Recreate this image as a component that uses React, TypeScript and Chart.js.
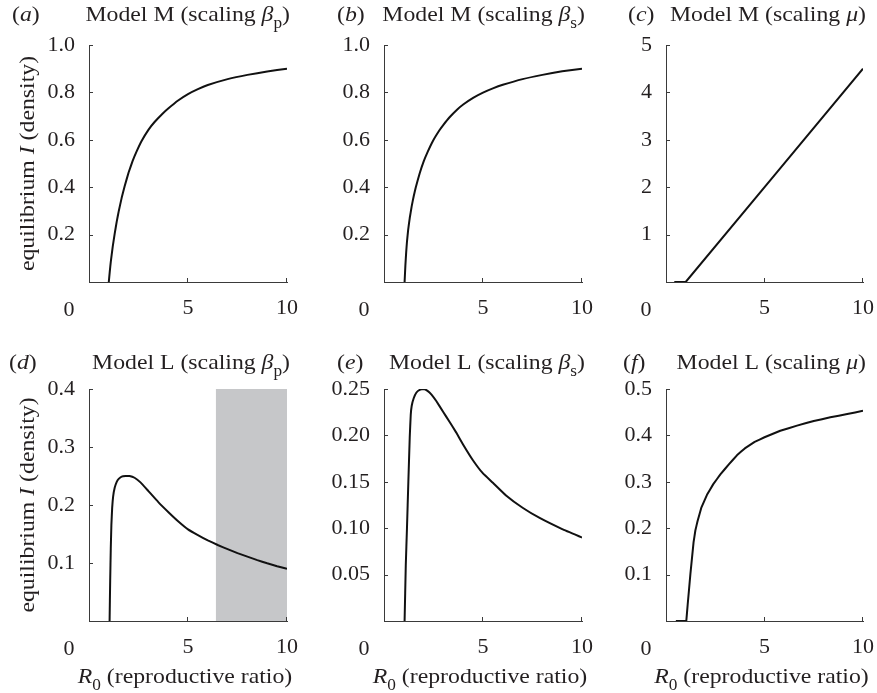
import React, { useEffect, useRef } from 'react';
import { Chart, registerables } from 'chart.js';

Chart.register(...registerables);

const FONT = "'Liberation Serif', 'Times New Roman', serif";
const INK = '#231f20';
const AXIS = '#3a3a3a';
const LINE = '#111111';
const SHADE = '#c6c7c9';
const FS = 22;
const SX = 1.08; // slight horizontal stretch for drawn captions

// ---- shared x ticks ----
const xTickValues = [0, 5, 10];
const xTickLabels = ['', '5', '10'];

// ---- (a) Model M, scaling beta_p ----
const aR0 = [1.0, 1.05, 1.1, 1.2, 1.3, 1.4, 1.5, 1.65, 1.8, 2.0, 2.2, 2.4, 2.65, 3.0, 3.3, 3.7, 4.0, 4.5, 5.0, 5.5, 6.0, 7.0, 8.0, 9.0, 10.0];
const aI = [0, 0.045, 0.085, 0.15, 0.205, 0.255, 0.298, 0.355, 0.404, 0.462, 0.51, 0.55, 0.594, 0.642, 0.674, 0.709, 0.732, 0.766, 0.793, 0.814, 0.831, 0.856, 0.874, 0.888, 0.9];
const aYTicks = [0, 0.2, 0.4, 0.6, 0.8, 1.0];
const aYLabels = ['', '0.2', '0.4', '0.6', '0.8', '1.0'];

// ---- (b) Model M, scaling beta_s ----
const bR0 = [1.04, 1.08, 1.12, 1.16, 1.22, 1.3, 1.4, 1.5, 1.6, 1.8, 2.0, 2.2, 2.47, 2.8, 3.0, 3.3, 3.7, 4.0, 4.5, 5.0, 5.5, 6.0, 7.0, 8.0, 9.0, 10.0];
const bI = [0, 0.07, 0.125, 0.17, 0.22, 0.27, 0.32, 0.362, 0.398, 0.458, 0.508, 0.548, 0.595, 0.64, 0.663, 0.694, 0.728, 0.749, 0.777, 0.799, 0.817, 0.832, 0.856, 0.874, 0.889, 0.9];
const bYTicks = [0, 0.2, 0.4, 0.6, 0.8, 1.0];
const bYLabels = ['', '0.2', '0.4', '0.6', '0.8', '1.0'];

// ---- (c) Model M, scaling mu ----
const cR0 = [0.42, 1.0, 10.0];
const cI = [0, 0, 4.5];
const cYTicks = [0, 1, 2, 3, 4, 5];
const cYLabels = ['', '1', '2', '3', '4', '5'];

// ---- (d) Model L, scaling beta_p ----
const dR0 = [1.04, 1.07, 1.1, 1.13, 1.17, 1.22, 1.3, 1.4, 1.5, 1.65, 1.85, 2.05, 2.3, 2.6, 3.0, 3.5, 4.0, 4.5, 5.0, 5.5, 6.0, 6.5, 7.0, 7.5, 8.0, 8.5, 9.0, 9.5, 10.0];
const dI = [0, 0.07, 0.125, 0.165, 0.195, 0.215, 0.23, 0.24, 0.245, 0.249, 0.25, 0.25, 0.247, 0.239, 0.224, 0.205, 0.188, 0.172, 0.158, 0.148, 0.139, 0.131, 0.124, 0.117, 0.111, 0.105, 0.0995, 0.0945, 0.09];
const dShadeR0 = [6.4, 10.0];
const dShadeI = [0.4, 0.4];
const dYTicks = [0, 0.1, 0.2, 0.3, 0.4];
const dYLabels = ['', '0.1', '0.2', '0.3', '0.4'];

// ---- (e) Model L, scaling beta_s ----
const eR0 = [1.04, 1.1, 1.16, 1.23, 1.3, 1.35, 1.4, 1.5, 1.63, 1.8, 2.0, 2.2, 2.4, 2.64, 3.0, 3.3, 3.65, 4.0, 4.5, 5.0, 5.5, 6.18, 7.0, 7.86, 9.0, 10.0];
const eI = [0, 0.06, 0.1, 0.15, 0.198, 0.222, 0.232, 0.24, 0.246, 0.249, 0.25, 0.248, 0.244, 0.237, 0.225, 0.215, 0.203, 0.19, 0.173, 0.159, 0.149, 0.135, 0.122, 0.111, 0.099, 0.09];
const eYTicks = [0, 0.05, 0.1, 0.15, 0.2, 0.25];
const eYLabels = ['', '0.05', '0.10', '0.15', '0.20', '0.25'];

// ---- (f) Model L, scaling mu ----
const fR0 = [0.5, 1.03, 1.1, 1.24, 1.4, 1.49, 1.6, 1.8, 2.08, 2.4, 2.76, 3.2, 3.6, 4.0, 4.5, 5.0, 5.8, 6.65, 7.5, 8.34, 9.2, 10.0];
const fI = [0, 0, 0.035, 0.102, 0.17, 0.195, 0.215, 0.245, 0.272, 0.295, 0.316, 0.338, 0.357, 0.372, 0.386, 0.396, 0.41, 0.421, 0.431, 0.439, 0.446, 0.453];
const fYTicks = [0, 0.1, 0.2, 0.3, 0.4, 0.5];
const fYLabels = ['', '0.1', '0.2', '0.3', '0.4', '0.5'];

type Part = { t: string; it?: boolean; sub?: boolean };

function partFont(p: Part, size: number) {
  const s = p.sub ? Math.round(size * 0.72) : size;
  return `${p.it ? 'italic ' : ''}${s}px ${FONT}`;
}
function richWidth(ctx: CanvasRenderingContext2D, parts: Part[], size: number) {
  let w = 0;
  for (const p of parts) {
    ctx.font = partFont(p, size);
    w += ctx.measureText(p.t).width;
  }
  return w * SX;
}
function drawRich(ctx: CanvasRenderingContext2D, parts: Part[], x: number, y: number, size: number, align: string) {
  const w = richWidth(ctx, parts, size);
  const sx = align === 'left' ? x : align === 'center' ? x - w / 2 : x - w;
  ctx.save();
  ctx.translate(sx, y);
  ctx.scale(SX, 1);
  ctx.textAlign = 'left';
  ctx.textBaseline = 'alphabetic';
  ctx.fillStyle = INK;
  let cx = 0;
  for (const p of parts) {
    ctx.font = partFont(p, size);
    ctx.fillText(p.t, cx, p.sub ? size * 0.3 : 0);
    cx += ctx.measureText(p.t).width;
  }
  ctx.restore();
}

const decorPlugin = {
  id: 'panelDecor',
  afterDraw(chart: any, _args: any, opts: any) {
    const ctx: CanvasRenderingContext2D = chart.ctx;
    const { left, right, top, bottom } = chart.chartArea;
    const xs = chart.scales.x;
    const ys = chart.scales.y;
    const ox = opts.canvasLeft;
    const oy = opts.canvasTop;
    ctx.save();
    // inward tick marks
    ctx.strokeStyle = AXIS;
    ctx.lineWidth = 1;
    ctx.beginPath();
    for (const t of ys.ticks) {
      if (t.value === 0) continue;
      const py = Math.round(ys.getPixelForValue(t.value)) + 0.5;
      ctx.moveTo(left, py);
      ctx.lineTo(left + 4, py);
    }
    for (const t of xs.ticks) {
      if (t.value === 0) continue;
      const px = Math.round(xs.getPixelForValue(t.value)) - 0.5;
      ctx.moveTo(px, bottom);
      ctx.lineTo(px, bottom - 4);
    }
    ctx.stroke();
    // corner "0" label
    ctx.font = `${FS}px ${FONT}`;
    ctx.fillStyle = INK;
    ctx.textAlign = 'center';
    ctx.textBaseline = 'alphabetic';
    ctx.fillText('0', xs.getPixelForValue(0) - 20, bottom + 34);
    // panel letter
    drawRich(ctx, [{ t: '(' }, { t: opts.letter, it: true }, { t: ')' }], opts.letterX - ox, opts.titleY - oy, FS, 'left');
    // panel title
    const tparts: Part[] = [{ t: opts.title }, { t: opts.sym, it: true }];
    if (opts.sub) tparts.push({ t: opts.sub, sub: true });
    tparts.push({ t: ')' });
    drawRich(ctx, tparts, right + 3, opts.titleY - oy, FS, 'right');
    // y axis title
    if (opts.yTitle) {
      ctx.save();
      ctx.translate(34 - ox, (top + bottom) / 2);
      ctx.rotate(-Math.PI / 2);
      drawRich(ctx, [{ t: 'equilibrium ' }, { t: 'I', it: true }, { t: ' (density)' }], 0, 0, FS, 'center');
      ctx.restore();
    }
    // x axis title
    if (opts.xTitle) {
      drawRich(ctx, [{ t: 'R', it: true }, { t: '0', sub: true }, { t: ' (reproductive ratio)' }], (left + right) / 2 - 3, bottom + 62, FS, 'center');
    }
    ctx.restore();
  },
};

type PanelCfg = {
  key: string;
  letter: string;
  letterX: number;
  title: string;
  sym: string;
  sub: string;
  titleY: number;
  plot: [number, number, number, number];
  ml: number;
  mt: number;
  mr: number;
  mb: number;
  r0: number[];
  vals: number[];
  shadeR0?: number[];
  shadeVals?: number[];
  yMax: number;
  yTicks: number[];
  yLabels: string[];
  yTitle: boolean;
  xTitle: boolean;
  tension: number;
};

const TOP_ROW: [number, number] = [45, 282];
const BOT_ROW: [number, number] = [389, 621];
const COL1: [number, number] = [89, 287];
const COL2: [number, number] = [384, 582];
const COL3: [number, number] = [666, 863];
const MR = 32;

const panels: PanelCfg[] = [
  { key: 'a', letter: 'a', letterX: 12, title: 'Model M (scaling ', sym: 'β', sub: 'p', titleY: 21,
    plot: [COL1[0], TOP_ROW[0], COL1[1], TOP_ROW[1]], ml: 89, mt: 45, mr: MR, mb: 52,
    r0: aR0, vals: aI, yMax: 1.0, yTicks: aYTicks, yLabels: aYLabels, yTitle: true, xTitle: false, tension: 0.1 },
  { key: 'b', letter: 'b', letterX: 337, title: 'Model M (scaling ', sym: 'β', sub: 's', titleY: 21,
    plot: [COL2[0], TOP_ROW[0], COL2[1], TOP_ROW[1]], ml: 62, mt: 45, mr: MR, mb: 52,
    r0: bR0, vals: bI, yMax: 1.0, yTicks: bYTicks, yLabels: bYLabels, yTitle: false, xTitle: false, tension: 0.1 },
  { key: 'c', letter: 'c', letterX: 628, title: 'Model M (scaling ', sym: 'μ', sub: '', titleY: 21,
    plot: [COL3[0], TOP_ROW[0], COL3[1], TOP_ROW[1]], ml: 62, mt: 45, mr: MR, mb: 52,
    r0: cR0, vals: cI, yMax: 5, yTicks: cYTicks, yLabels: cYLabels, yTitle: false, xTitle: false, tension: 0.0001 },
  { key: 'd', letter: 'd', letterX: 9, title: 'Model L (scaling ', sym: 'β', sub: 'p', titleY: 369,
    plot: [COL1[0], BOT_ROW[0], COL1[1], BOT_ROW[1]], ml: 89, mt: 45, mr: MR, mb: 72,
    r0: dR0, vals: dI, shadeR0: dShadeR0, shadeVals: dShadeI, yMax: 0.4, yTicks: dYTicks, yLabels: dYLabels, yTitle: true, xTitle: true, tension: 0.1 },
  { key: 'e', letter: 'e', letterX: 337, title: 'Model L (scaling ', sym: 'β', sub: 's', titleY: 369,
    plot: [COL2[0], BOT_ROW[0], COL2[1], BOT_ROW[1]], ml: 62, mt: 45, mr: MR, mb: 72,
    r0: eR0, vals: eI, yMax: 0.25, yTicks: eYTicks, yLabels: eYLabels, yTitle: false, xTitle: true, tension: 0.1 },
  { key: 'f', letter: 'f', letterX: 623, title: 'Model L (scaling ', sym: 'μ', sub: '', titleY: 369,
    plot: [COL3[0], BOT_ROW[0], COL3[1], BOT_ROW[1]], ml: 62, mt: 45, mr: MR, mb: 72,
    r0: fR0, vals: fI, yMax: 0.5, yTicks: fYTicks, yLabels: fYLabels, yTitle: false, xTitle: true, tension: 0.0001 },
];

function Panel({ cfg }: { cfg: PanelCfg }) {
  const ref = useRef<HTMLCanvasElement>(null);
  const [pl, pt, pr, pb] = cfg.plot;
  const cl = pl - cfg.ml;
  const ct = pt - cfg.mt;
  const w = pr - pl + cfg.ml + cfg.mr;
  const h = pb - pt + cfg.mt + cfg.mb;

  useEffect(() => {
    const datasets: any[] = [
      {
        data: cfg.r0.map((x, i) => ({ x, y: cfg.vals[i] })),
        borderColor: LINE,
        borderWidth: 2,
        pointRadius: 0,
        fill: false,
        tension: cfg.tension,
        borderJoinStyle: 'round',
      },
    ];
    if (cfg.shadeR0 && cfg.shadeVals) {
      datasets.push({
        data: cfg.shadeR0.map((x, i) => ({ x, y: cfg.shadeVals![i] })),
        borderWidth: 0,
        borderColor: 'rgba(0,0,0,0)',
        backgroundColor: SHADE,
        pointRadius: 0,
        fill: 'origin',
      });
    }
    const chart = new Chart(ref.current!, {
      type: 'line',
      data: { datasets },
      options: {
        responsive: false,
        animation: false,
        events: [],
        layout: { padding: { left: 0, top: cfg.mt, right: cfg.mr, bottom: 0 } },
        plugins: {
          legend: { display: false },
          tooltip: { enabled: false },
          panelDecor: {
            canvasLeft: cl,
            canvasTop: ct,
            letter: cfg.letter,
            letterX: cfg.letterX,
            title: cfg.title,
            sym: cfg.sym,
            sub: cfg.sub,
            titleY: cfg.titleY,
            yTitle: cfg.yTitle,
            xTitle: cfg.xTitle,
          },
        } as any,
        scales: {
          x: {
            type: 'linear',
            min: 0,
            max: 10,
            afterBuildTicks: (s: any) => {
              s.ticks = xTickValues.map((v) => ({ value: v }));
            },
            afterFit: (s: any) => {
              s.height = cfg.mb;
            },
            grid: { display: false, drawTicks: false },
            border: { display: true, color: AXIS, width: 1 },
            ticks: {
              padding: 13,
              color: INK,
              font: { family: FONT, size: FS },
              autoSkip: false,
              maxRotation: 0,
              callback: (_v: any, i: number) => xTickLabels[i],
            },
          },
          y: {
            type: 'linear',
            min: 0,
            max: cfg.yMax,
            afterBuildTicks: (s: any) => {
              s.ticks = cfg.yTicks.map((v) => ({ value: v }));
            },
            afterFit: (s: any) => {
              s.width = cfg.ml;
            },
            grid: { display: false, drawTicks: false },
            border: { display: true, color: AXIS, width: 1 },
            ticks: {
              padding: 14,
              color: INK,
              font: { family: FONT, size: FS },
              autoSkip: false,
              callback: (_v: any, i: number) => cfg.yLabels[i],
            },
          },
        },
      },
      plugins: [decorPlugin],
    } as any);
    return () => chart.destroy();
  }, []);

  return (
    <canvas
      ref={ref}
      width={w}
      height={h}
      style={{ position: 'absolute', left: cl, top: ct, width: w, height: h }}
    />
  );
}

export default function App() {
  return (
    <div style={{ position: 'absolute', left: 0, top: 0, width: 877, height: 693, background: '#ffffff', overflow: 'hidden' }}>
      {panels.map((p) => (
        <Panel key={p.key} cfg={p} />
      ))}
    </div>
  );
}
